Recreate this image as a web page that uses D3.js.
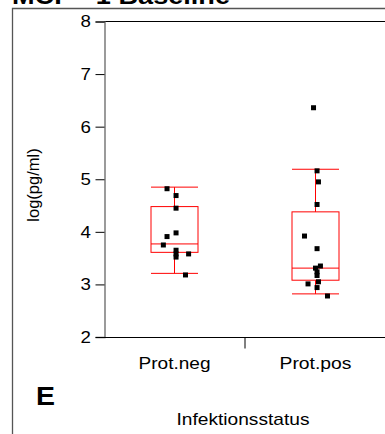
<!DOCTYPE html>
<html><head><meta charset="utf-8">
<script src="https://cdn.jsdelivr.net/npm/d3@7"></script>
<style>html,body{margin:0;padding:0;background:#fff;}svg{display:block;}</style>
</head><body>
<script>
const categories = ["Prot.neg", "Prot.pos"];
const yTicks = [2, 3, 4, 5, 6, 7, 8];
const whiskerLow = [3.21, 2.82];
const q1 = [3.61, 3.08];
const median = [3.77, 3.31];
const q3 = [4.48, 4.38];
const whiskerHigh = [4.85, 5.19];
const negValues = [4.82, 4.69, 4.45, 3.98, 3.91, 3.75, 3.65, 3.58, 3.58, 3.52, 3.18];
const negJitter = [-0.053, 0.011, 0.011, 0.011, -0.053, -0.079, 0.011, 0.1, 0.011, 0.011, 0.078];
const posValues = [6.36, 5.16, 4.95, 4.52, 3.92, 3.68, 3.35, 3.31, 3.24, 3.17, 3.05, 3.01, 2.94, 2.78];
const posJitter = [-0.014, 0.011, 0.021, 0.011, -0.078, 0.011, 0.035, 0, 0.011, 0.011, 0.021, -0.053, 0.011, 0.085];
const titleText = "MCP - 1 Baseline";
const yLabel = "log(pg/ml)";
const xLabel = "Infektionsstatus";
const panelLetter = "E";

const W = 385, H = 434;
const svg = d3.select("body").append("svg").attr("width", W).attr("height", H);
const font = "Arial, 'Liberation Sans', sans-serif";

// title (cut off at top, as in the reference)
svg.append("text").attr("x", 12).attr("y", 4).attr("font-family", font)
  .attr("font-weight", "bold").attr("font-size", 23).attr("fill", "#000")
  .attr("textLength", 218).attr("lengthAdjust", "spacingAndGlyphs").text(titleText);

// outer frame
svg.append("path").attr("d", `M12.5,${H} V8.5 H${W}`).attr("fill", "none")
  .attr("stroke", "#555").attr("stroke-width", 1.3);

const x = d3.scaleBand().domain(categories).range([104, 386]).padding(0);
const y = d3.scaleLinear().domain([2, 8]).range([337, 21.5]);
const bw = x.bandwidth();

// top border
svg.append("line").attr("x1", 104).attr("x2", W).attr("y1", y(8)).attr("y2", y(8))
  .attr("stroke", "#000").attr("stroke-width", 1);

// y axis
const gy = svg.append("g").attr("transform", "translate(104.5,0)")
  .call(d3.axisLeft(y).tickValues(yTicks).tickSize(9).tickPadding(3).tickFormat(d3.format("d")));
gy.select(".domain").attr("stroke", "#666").attr("stroke-width", 1.3);
gy.selectAll(".tick line").attr("stroke", "#000");
gy.selectAll(".tick text").attr("font-family", font).attr("font-size", 17).attr("fill", "#000")
  .attr("transform", "scale(1.1,1)").attr("x", -13.5/1.1);

// x axis
const gx = svg.append("g").attr("transform", "translate(0,337.5)")
  .call(d3.axisBottom(x).tickSize(0).tickPadding(0));
gx.select(".domain").attr("stroke", "#000").attr("d", `M104,0H${W}`);
gx.selectAll(".tick text").attr("font-family", font).attr("font-size", 17).attr("fill", "#000")
  .attr("y", 31.5).attr("dy", 0).attr("textLength", 72).attr("lengthAdjust", "spacingAndGlyphs");
gx.append("line").attr("x1", x(categories[1])).attr("x2", x(categories[1]))
  .attr("y1", 0).attr("y2", 11).attr("stroke", "#000");

// boxes
const bh = 47;
categories.forEach((c, i) => {
  const cx = x(c) + bw / 2;
  const g = svg.append("g").attr("stroke", "#f00").attr("stroke-width", 1).attr("fill", "none");
  g.append("rect").attr("x", cx - bh / 2).attr("y", y(q3[i])).attr("width", bh)
    .attr("height", y(q1[i]) - y(q3[i]));
  g.append("line").attr("x1", cx - bh / 2).attr("x2", cx + bh / 2).attr("y1", y(median[i])).attr("y2", y(median[i]));
  g.append("line").attr("x1", cx).attr("x2", cx).attr("y1", y(q3[i])).attr("y2", y(whiskerHigh[i]));
  g.append("line").attr("x1", cx).attr("x2", cx).attr("y1", y(q1[i])).attr("y2", y(whiskerLow[i]));
  g.append("line").attr("x1", cx - bh / 2).attr("x2", cx + bh / 2).attr("y1", y(whiskerHigh[i])).attr("y2", y(whiskerHigh[i]));
  g.append("line").attr("x1", cx - bh / 2).attr("x2", cx + bh / 2).attr("y1", y(whiskerLow[i])).attr("y2", y(whiskerLow[i]));
});

// points
const pts = [];
negValues.forEach((v, i) => pts.push({ c: categories[0], v, j: negJitter[i] }));
posValues.forEach((v, i) => pts.push({ c: categories[1], v, j: posJitter[i] }));
const s = 5;
svg.append("g").selectAll("rect").data(pts).join("rect")
  .attr("x", d => x(d.c) + bw / 2 + d.j * bw - s / 2)
  .attr("y", d => y(d.v) - s / 2)
  .attr("width", s).attr("height", s).attr("fill", "#000");

// labels
svg.append("text").attr("transform", "translate(39,185) rotate(-90)").attr("text-anchor", "middle")
  .attr("font-family", font).attr("font-size", 16.5).attr("fill", "#000").text(yLabel);
svg.append("text").attr("x", 243).attr("y", 425).attr("text-anchor", "middle")
  .attr("font-family", font).attr("font-size", 17).attr("fill", "#000")
  .attr("textLength", 133).attr("lengthAdjust", "spacingAndGlyphs").text(xLabel);
svg.append("text").attr("x", 36).attr("y", 405).attr("font-family", font)
  .attr("font-weight", "bold").attr("font-size", 25.5).attr("fill", "#000")
  .attr("textLength", 19).attr("lengthAdjust", "spacingAndGlyphs").text(panelLetter);
</script>
</body></html>
